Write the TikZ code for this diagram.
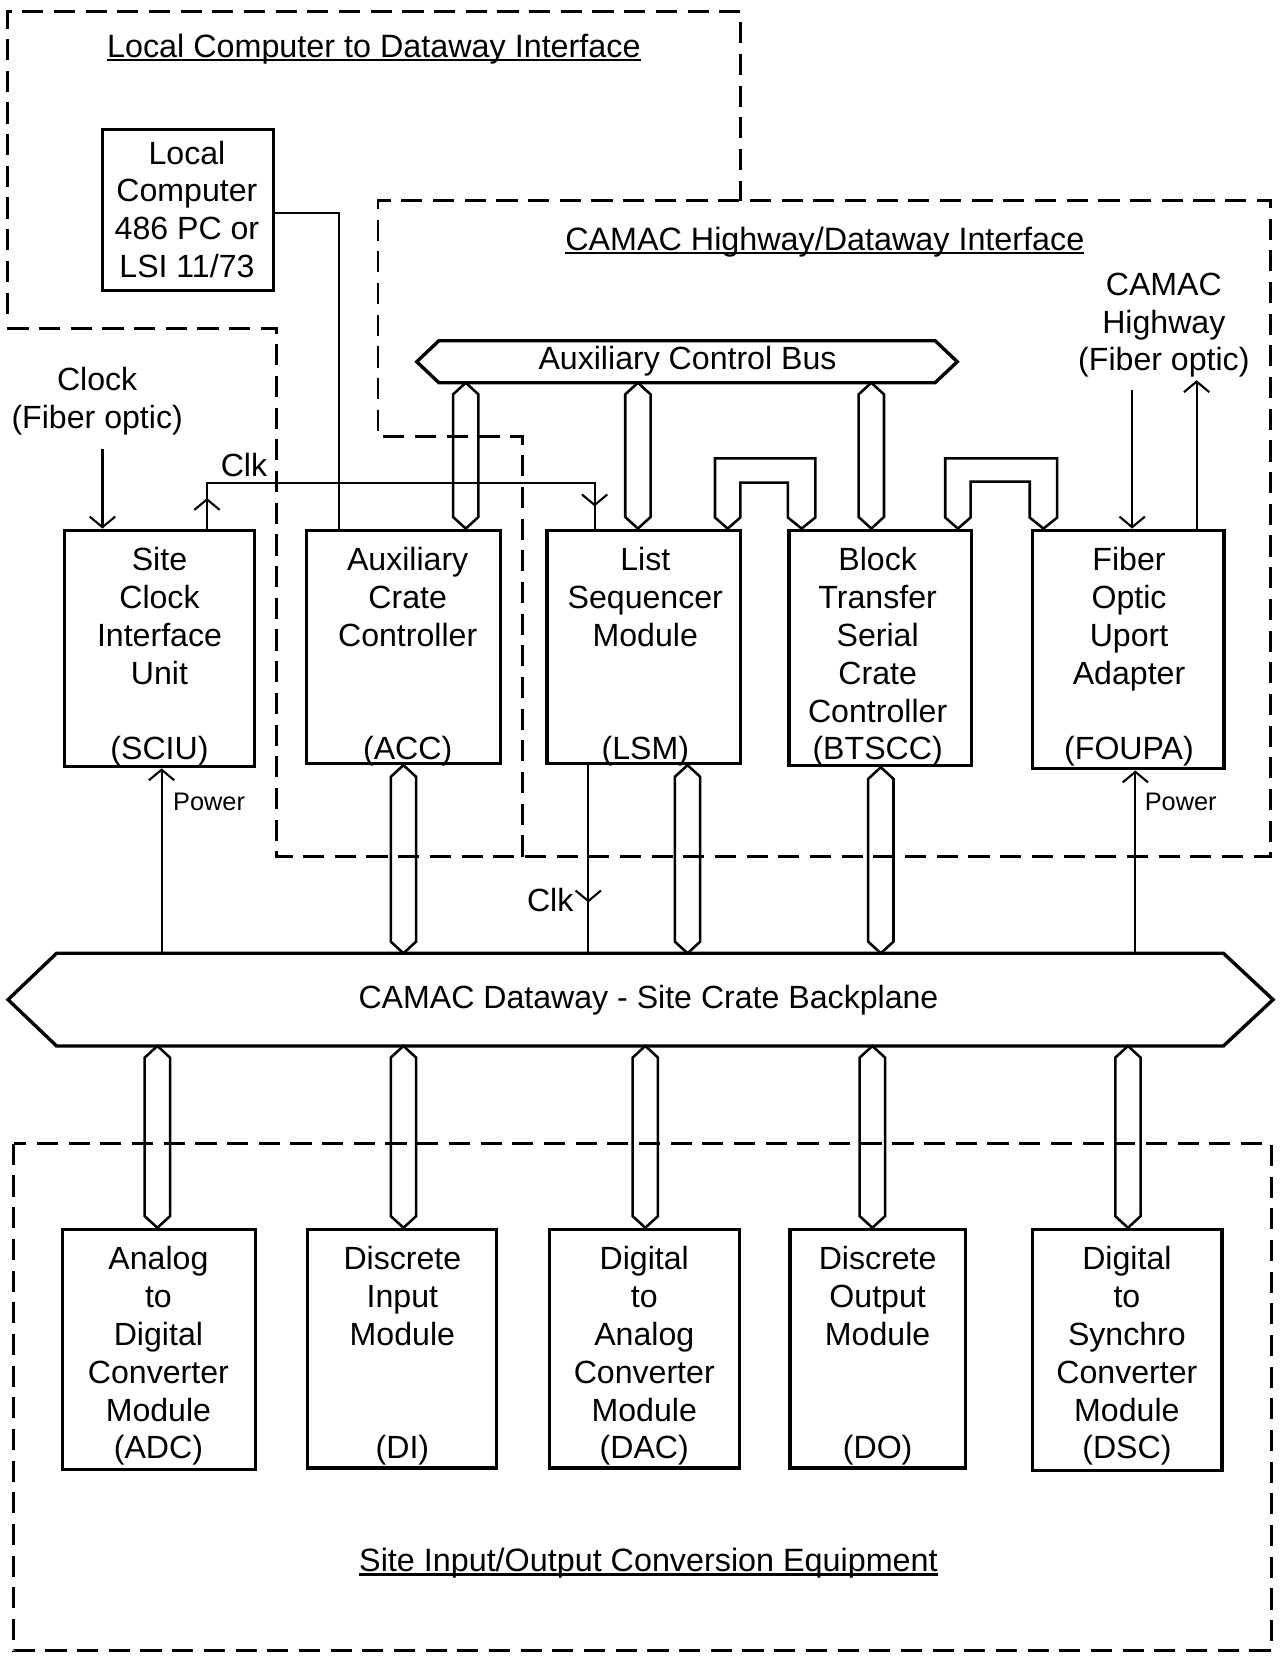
\documentclass[tikz,border=0pt]{standalone}
\usepackage{fontspec}
\setmainfont{Liberation Sans}
\usetikzlibrary{arrows.meta,calc,fit,decorations.markings}
\newcommand\myul[1]{\setbox0\hbox{#1}\rlap{\rule[-1.9pt]{\wd0}{1.1pt}}\box0}
\newcommand\hbus[2]{\draw[busline] let \p1=#1, \p2=#2 in (\p1) -- (\x1+6pt,\y1-5.5pt) -- (\x1+6pt,\y2+5.5pt) -- (\x1,\y2) -- (\x1-6pt,\y2+5.5pt) -- (\x1-6pt,\y1-5.5pt) -- cycle;}
\tikzset{
  box/.style={draw, line width=1.5pt, inner sep=0pt},
  txt/.style={font=\fontsize{15.2}{17.9}\selectfont, align=center, inner sep=0pt},
  title/.style={font=\fontsize{15.3}{18}\selectfont, inner sep=0pt, anchor=base},
  small/.style={font=\fontsize{12}{14}\selectfont, inner sep=0pt},
  region/.style={line width=1.3pt, dash pattern=on 10pt off 5pt},
  wire/.style={line width=1pt},
  hexline/.style={line width=1.6pt, line join=miter},
  busline/.style={line width=1.2pt, line join=miter},
  cbarb/.tip={Straight Barb[length=5pt, width=12pt]},
}
\begin{document}
\begin{tikzpicture}[x=0.5pt,y=-0.5pt]
\useasboundingbox (0,0) rectangle (1212,1568);

% dashed regions
\draw[region] (7,297) -- (7,11) -- (701,11) -- (701,190);
\draw[region] (7,311) -- (262,311) -- (262,811) -- (1203,811) -- (1203,190) -- (358,190) -- (358,413) -- (495,413) -- (495,811);
\draw[region] (13,1083) rectangle (1204,1563);

% titles
\node[title] (t1) at (354,54) {\myul{Local Computer to Dataway Interface}};
\node[title] (t2) at (781,237) {\myul{CAMAC Highway/Dataway Interface}};
\node[title] (t3) at (614,1488) {\myul{Site Input/Output Conversion Equipment}};

% local computer
\node[box, fit={(97,123) (259,275)}] (lc) {};
\node[txt, anchor=north] (lc-t) at (177,133) {Local\\Computer\\486 PC or\\LSI 11/73};

% upper boxes
\node[box, fit={(61,502) (241,726)}] (sciu) {};
\node[box, fit={(290,502) (474,723)}] (acc) {};
\node[box, fit={(518,502) (701,723)}] (lsm) {};
\node[box, fit={(747,502) (920,725)}] (btscc) {};
\node[box, fit={(978,502) (1159,728)}] (foupa) {};
\node[txt, anchor=north] (sciu-t) at (151,518) {Site\\Clock\\Interface\\Unit\\\mbox{}\\(SCIU)};
\node[txt, anchor=north] (acc-t) at (386,518) {Auxiliary\\Crate\\Controller\\\mbox{}\\\mbox{}\\(ACC)};
\node[txt, anchor=north] (lsm-t) at (611,518) {List\\Sequencer\\Module\\\mbox{}\\\mbox{}\\(LSM)};
\node[txt, anchor=north] (btscc-t) at (831,518) {Block\\Transfer\\Serial\\Crate\\Controller\\(BTSCC)};
\node[txt, anchor=north] (foupa-t) at (1069,518) {Fiber\\Optic\\Uport\\Adapter\\\mbox{}\\(FOUPA)};

% lower boxes
\node[box, fit={(59,1164) (242,1391)}] (adc) {};
\node[box, fit={(291,1164) (470,1390)}] (di) {};
\node[box, fit={(520,1164) (700,1390)}] (dac) {};
\node[box, fit={(748,1164) (914,1390)}] (dom) {};
\node[box, fit={(978,1164) (1157,1392)}] (dsc) {};
\node[txt, anchor=north] (adc-t) at (150,1180) {Analog\\to\\Digital\\Converter\\Module\\(ADC)};
\node[txt, anchor=north] (di-t) at (381,1180) {Discrete\\Input\\Module\\\mbox{}\\\mbox{}\\(DI)};
\node[txt, anchor=north] (dac-t) at (610,1180) {Digital\\to\\Analog\\Converter\\Module\\(DAC)};
\node[txt, anchor=north] (dom-t) at (831,1180) {Discrete\\Output\\Module\\\mbox{}\\\mbox{}\\(DO)};
\node[txt, anchor=north] (dsc-t) at (1067,1180) {Digital\\to\\Synchro\\Converter\\Module\\(DSC)};

% auxiliary control bus
\node[inner sep=0pt, fit={(416,323) (885,362)}] (acb) {};
\draw[hexline] (acb.north west) -- (acb.north east) -- ($(acb.east)+(21,0)$) -- (acb.south east) -- (acb.south west) -- ($(acb.west)+(-21,0)$) -- cycle;
\node[txt] (acb-t) at (651,342) {Auxiliary Control Bus};

% dataway
\node[inner sep=0pt, fit={(54,903) (1158,990)}] (dw) {};
\draw[hexline] (dw.north west) -- (dw.north east) -- ($(dw.east)+(47,0)$) -- (dw.south east) -- (dw.south west) -- ($(dw.west)+(-46,0)$) -- cycle;
\node[txt] (dw-t) at (614,947) {CAMAC Dataway - Site Crate Backplane};

% hollow buses
\hbus{(acb.south -| 441,0)}{(acc.north -| 441,0)}
\hbus{(acb.south -| 604,0)}{(lsm.north -| 604,0)}
\hbus{(acb.south -| 825,0)}{(btscc.north -| 825,0)}
\hbus{(acc.south -| 382,0)}{(dw.north -| 382,0)}
\hbus{(lsm.south -| 651,0)}{(dw.north -| 651,0)}
\hbus{(btscc.south -| 834,0)}{(dw.north -| 834,0)}
\hbus{(dw.south -| 149,0)}{(adc.north -| 149,0)}
\hbus{(dw.south -| 382,0)}{(di.north -| 382,0)}
\hbus{(dw.south -| 611,0)}{(dac.north -| 611,0)}
\hbus{(dw.south -| 826,0)}{(dom.north -| 826,0)}
\hbus{(dw.south -| 1068,0)}{(dsc.north -| 1068,0)}

% U-shaped links
\draw[busline] (lsm.north -| 689,0) -- (677,490) -- (677,434) -- (772,434) -- (772,490) -- (btscc.north -| 759,0) -- (746,490) -- (746,457) -- (701,457) -- (701,490) -- cycle;
\draw[busline] (btscc.north -| 907,0) -- (895,490) -- (895,434) -- (1001,434) -- (1001,490) -- (foupa.north -| 988,0) -- (975,490) -- (975,456) -- (919,456) -- (919,490) -- cycle;

% local computer to ACC
\draw[wire] (lc.east |- 0,202) -| (acc.north -| 321,0);

% clock input
\node[txt] (clk-in) at (92,380) {Clock\\(Fiber optic)};
\coordinate (clk-src) at (97,425);
\draw[wire,-{cbarb}] (clk-src) -- (sciu.north -| clk-src);

% Clk distribution
\draw[wire, postaction={decorate, decoration={markings,
    mark=at position 14.5pt with {\arrow{cbarb}},
    mark=at position 216.5pt with {\arrow{cbarb}}}}]
  (sciu.north -| 196,0) |- (563,457) -- (lsm.north -| 563,0);
\node[txt] (clk1) at (231,440) {Clk};

\draw[wire, postaction={decorate, decoration={markings,
    mark=at position 65pt with {\arrow{cbarb}}}}]
  (lsm.south -| 557,0) -- (dw.north -| 557,0);
\node[txt] (clk2) at (521,852) {Clk};

% power
\draw[wire,-{cbarb}] (dw.north -| 153,0) -- (sciu.south -| 153,0);
\node[small] (pw1) at (198,759) {Power};
\draw[wire,-{cbarb}] (dw.north -| 1075,0) -- (foupa.south -| 1075,0);
\node[small] (pw2) at (1118,759) {Power};

% CAMAC highway
\node[txt] (hw) at (1102,308) {CAMAC\\Highway\\(Fiber optic)};
\coordinate (hw-in) at (1072,369);
\coordinate (hw-out) at (1133,360);
\draw[wire,-{cbarb}] (hw-in) -- (foupa.north -| hw-in);
\draw[wire,-{cbarb}] (foupa.north -| hw-out) -- (hw-out);
\end{tikzpicture}
\end{document}
